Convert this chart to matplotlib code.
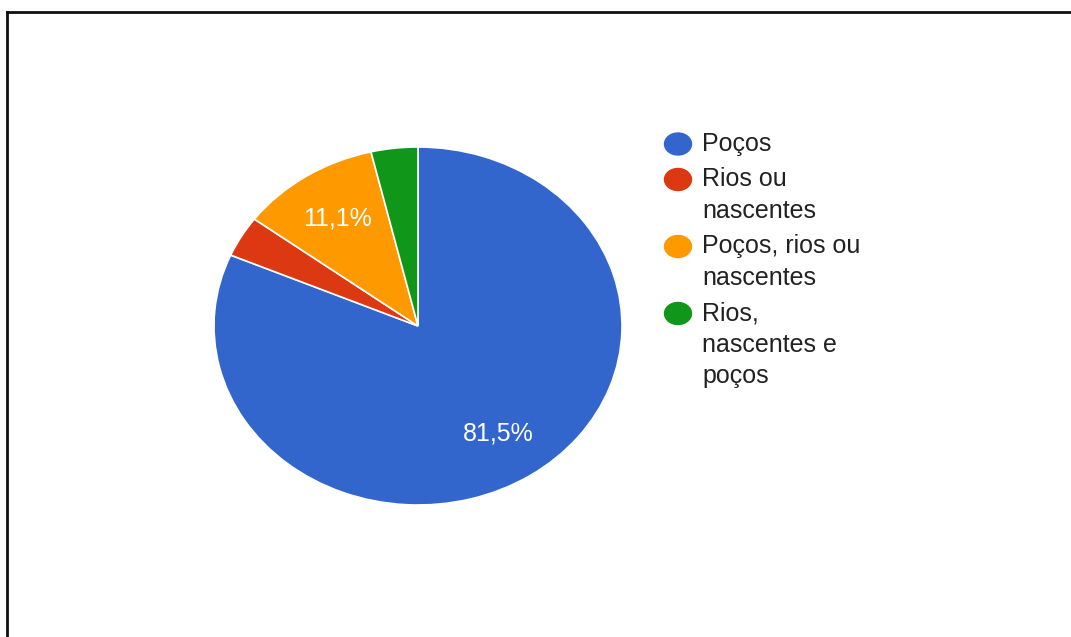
# ------------------------------------------------------------
# Pie chart : fonte de agua (Poços / Rios / Nascentes)
# ------------------------------------------------------------

import matplotlib
matplotlib.use("Agg")

import matplotlib.pyplot as plt
from matplotlib.patches import Ellipse

# ------------------------------------------------------------
# Data
# ------------------------------------------------------------

categories = ["Poços", "Rios ou\nnascentes", "Poços, rios ou\nnascentes",
              "Rios,\nnascentes e\npoços"]
counts = [22, 1, 3, 1]
colors = ["#3366CC", "#DC3912", "#FF9900", "#109618"]

# ------------------------------------------------------------
# Figure
# ------------------------------------------------------------

W, H = 1071, 637
fig = plt.figure(figsize=(W / 100, H / 100), dpi=100)
fig.patch.set_facecolor("white")

FONT = "Liberation Sans"
FSIZE = 18


def pct_label(p):
    if p < 5:
        return ""
    return f"{p:.1f}%".replace(".", ",")


# pie axes (the picture is stretched horizontally, so aspect is auto)
ax = fig.add_axes([214 / W, 1 - 505 / H, 408 / W, 358 / H])
wedges, texts, autotexts = ax.pie(
    counts,
    colors=colors,
    startangle=90,
    counterclock=False,
    autopct=pct_label,
    pctdistance=0.72,
    wedgeprops=dict(edgecolor="white", linewidth=1.2),
    textprops=dict(color="white", fontsize=FSIZE, family=FONT),
)
ax.set_aspect("auto")
ax.set_xlim(-1, 1)
ax.set_ylim(-1, 1)
ax.axis("off")

# ------------------------------------------------------------
# Overlay in pixel coordinates : frame + legend
# ------------------------------------------------------------

ov = fig.add_axes([0, 0, 1, 1])
ov.set_xlim(0, W)
ov.set_ylim(H, 0)
ov.axis("off")

# frame (only top and left edges are visible)
ov.plot([7, W], [12, 12], color="#111111", linewidth=2)
ov.plot([7, 7], [12, H], color="#111111", linewidth=2)

# legend
baseline = 151
line_pitch = 31.5
item_gap = 4

for label, color in zip(categories, colors):
    lines = label.split("\n")
    ov.add_patch(Ellipse((678, baseline - 7), 27, 22, color=color))
    for k, line in enumerate(lines):
        ov.text(702, baseline + k * line_pitch, line,
                fontsize=FSIZE, family=FONT, color="#222222",
                va="baseline", ha="left")
    baseline += len(lines) * line_pitch + item_gap

fig.savefig("out.png", dpi=100)
